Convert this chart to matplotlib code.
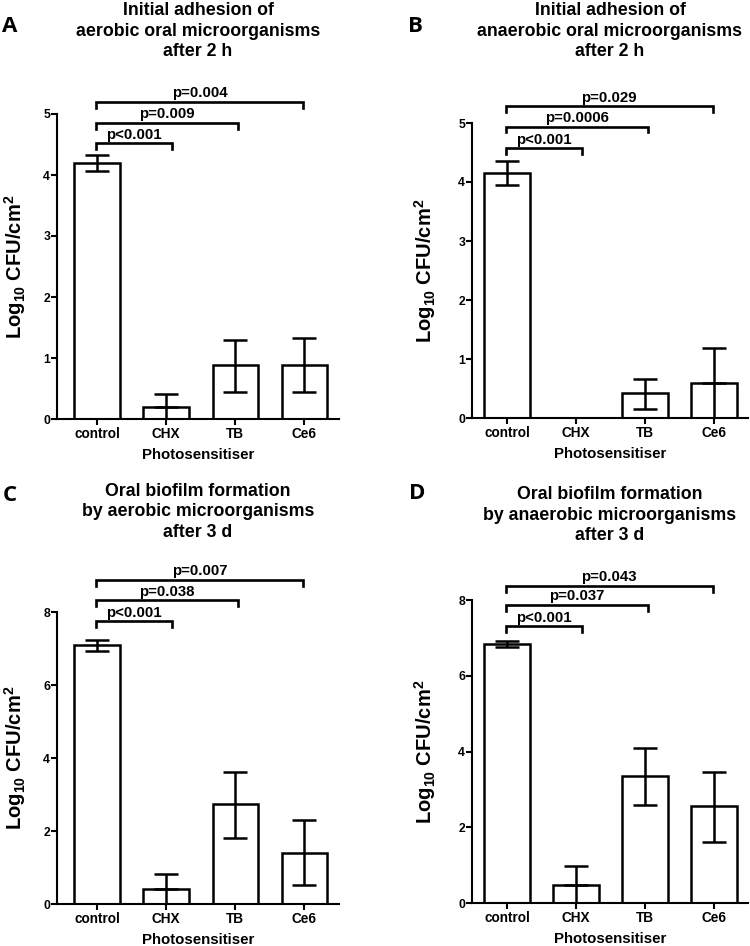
import numpy as np
import matplotlib
matplotlib.use('Agg')
import matplotlib.pyplot as plt

plt.rcParams['font.family'] = ['Liberation Sans', 'DejaVu Sans']
plt.rcParams['font.weight'] = 'bold'
plt.rcParams['mathtext.fontset'] = 'custom'
plt.rcParams['mathtext.rm'] = 'Liberation Sans:bold'
plt.rcParams['mathtext.it'] = 'Liberation Sans:bold'
plt.rcParams['mathtext.bf'] = 'Liberation Sans:bold'

# Data (log10 CFU/cm2, mean with error range)
categories = ['control', 'CHX', 'TB', 'Ce6']

a_mean = [4.20, 0.20, 0.88, 0.88]
a_low = [4.07, 0.0, 0.45, 0.45]
a_high = [4.33, 0.41, 1.30, 1.33]
a_p = ['p<0.001', 'p=0.009', 'p=0.004']
a_bracket = [4.52, 4.86, 5.20]

b_mean = [4.16, 0.0, 0.42, 0.60]
b_low = [3.95, 0.0, 0.15, 0.0]
b_high = [4.36, 0.0, 0.66, 1.18]
b_p = ['p<0.001', 'p=0.0006', 'p=0.029']
b_bracket = [4.57, 4.94, 5.28]

c_mean = [7.09, 0.42, 2.73, 1.41]
c_low = [6.92, 0.0, 1.82, 0.52]
c_high = [7.23, 0.82, 3.61, 2.29]
c_p = ['p<0.001', 'p=0.038', 'p=0.007']
c_bracket = [7.74, 8.32, 8.88]

d_mean = [6.84, 0.48, 3.34, 2.55]
d_low = [6.77, 0.0, 2.59, 1.60]
d_high = [6.93, 0.97, 4.09, 3.47]
d_p = ['p<0.001', 'p=0.037', 'p=0.043']
d_bracket = [7.31, 7.87, 8.38]

titles = ['Initial adhesion of\naerobic oral microorganisms\nafter 2 h',
          'Initial adhesion of\nanaerobic oral microorganisms\nafter 2 h',
          'Oral biofilm formation\nby aerobic microorganisms\nafter 3 d',
          'Oral biofilm formation\nby anaerobic microorganisms\nafter 3 d']
letters = ['A', 'B', 'C', 'D']

W, H = 750, 946
LW = 1.8

fig = plt.figure(figsize=(W / 100, H / 100), dpi=100)


def add_ax(left, top, right, bottom):
    return fig.add_axes([left / W, 1 - bottom / H, (right - left) / W, (bottom - top) / H])


def draw_panel(ax, mean, low, high, pvals, brackets, ymax, ystep, xlim, title, letter, title_y, letter_xy):
    x = np.arange(len(categories))
    ax.bar(x, mean, width=0.66, color='white', edgecolor='black', linewidth=LW, zorder=2)
    for i in range(len(categories)):
        if high[i] == mean[i] and low[i] == mean[i]:
            continue
        if low[i] <= 0:
            # lower whisker runs into the baseline, no cap drawn there
            ax.vlines(x[i], 0, mean[i], color='black', linewidth=LW, zorder=3)
            ax.errorbar(x[i], mean[i], yerr=[[0], [high[i] - mean[i]]],
                        fmt='none', ecolor='black', elinewidth=LW, capsize=8.5,
                        capthick=LW, zorder=3)
        else:
            ax.errorbar(x[i], mean[i], yerr=[[mean[i] - low[i]], [high[i] - mean[i]]],
                        fmt='none', ecolor='black', elinewidth=LW, capsize=8.5,
                        capthick=LW, zorder=3)

    # significance brackets from control to each group
    drop = 0.02 * ymax
    ends = [0.08, 0.04, -0.02]
    for j, (p, yb) in enumerate(zip(pvals, brackets)):
        x0, x1 = -0.02, j + 1 + ends[j]
        ax.plot([x0, x0, x1, x1], [yb - drop, yb, yb, yb - drop], color='black',
                linewidth=1.9, clip_on=False, solid_joinstyle='miter')
        ax.text((x0 + x1) / 2, yb + 0.005 * ymax, p, ha='center', va='bottom',
                fontsize=10.8, fontweight='bold')

    ax.set_xlim(*xlim)
    ax.set_ylim(0, ymax)
    ax.set_yticks(np.arange(0, ymax + 0.01, ystep))
    ax.set_xticks(x)
    ax.set_xticklabels(categories)
    ax.spines['top'].set_visible(False)
    ax.spines['right'].set_visible(False)
    ax.spines['left'].set_linewidth(1.5)
    ax.spines['bottom'].set_linewidth(1.5)
    ax.tick_params(axis='x', length=4, width=1.5, labelsize=9.8, pad=2)
    ax.tick_params(axis='y', length=4, width=1.5, labelsize=8.8, pad=1)
    for lab in ax.get_xticklabels() + ax.get_yticklabels():
        lab.set_fontweight('bold')

    ax.set_xlabel('Photosensitiser', fontsize=10.8, fontweight='bold', va='center')
    ax.set_ylabel('Log$_{10}$ CFU/cm$^{2}$', fontsize=14.5, fontweight='bold', va='center')

    bb = ax.get_position()
    px_h = bb.height * H
    px_w = bb.width * W
    ax.xaxis.set_label_coords(0.5, -36 / px_h)
    ax.yaxis.set_label_coords(-(bb.x0 * W - letter_xy[2]) / px_w, 0.5)

    cx = (bb.x0 + bb.width / 2)
    fig.text(cx, 1 - title_y / H, title, ha='center', va='center', fontsize=12.8,
             fontweight='bold', linespacing=1.25)
    fig.text(letter_xy[0] / W, 1 - letter_xy[1] / H, letter, ha='center', va='center',
             fontsize=16, fontweight='bold', family=['Open Sans', 'DejaVu Sans'])


ax_a = add_ax(57, 114, 339, 419)
ax_b = add_ax(472, 123, 748, 418)
ax_c = add_ax(57, 612, 339, 904)
ax_d = add_ax(472, 600, 748, 903)

draw_panel(ax_a, a_mean, a_low, a_high, a_p, a_bracket, 5, 1, (-0.58, 3.5),
           titles[0], letters[0], 31, (10, 26, 15))
draw_panel(ax_b, b_mean, b_low, b_high, b_p, b_bracket, 5, 1, (-0.51, 3.49),
           titles[1], letters[1], 31, (415, 26, 425))
draw_panel(ax_c, c_mean, c_low, c_high, c_p, c_bracket, 8, 2, (-0.58, 3.5),
           titles[2], letters[2], 512, (10, 495, 15))
draw_panel(ax_d, d_mean, d_low, d_high, d_p, d_bracket, 8, 2, (-0.51, 3.49),
           titles[3], letters[3], 515, (417, 493, 425))

fig.savefig('out.png', dpi=100)
